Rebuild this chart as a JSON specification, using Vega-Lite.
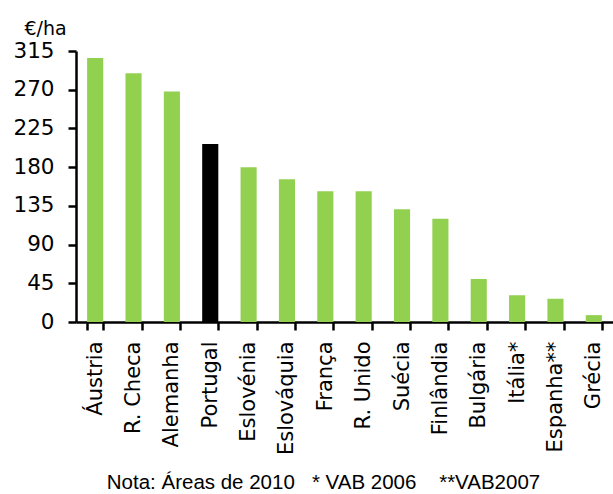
{
  "$schema": "https://vega.github.io/schema/vega-lite/v6.json",
  "width": 537,
  "height": 271,
  "autosize": {"type": "none"},
  "padding": {"left": 76, "top": 51, "right": 0, "bottom": 172},
  "background": "white",
  "config": {"view": {"stroke": null}},
  "data": {"values": [
    {"pais": "Áustria", "valor": 307, "grupo": "outro"},
    {"pais": "R. Checa", "valor": 289, "grupo": "outro"},
    {"pais": "Alemanha", "valor": 268, "grupo": "outro"},
    {"pais": "Portugal", "valor": 207, "grupo": "Portugal"},
    {"pais": "Eslovénia", "valor": 180, "grupo": "outro"},
    {"pais": "Eslováquia", "valor": 166, "grupo": "outro"},
    {"pais": "França", "valor": 152, "grupo": "outro"},
    {"pais": "R. Unido", "valor": 152, "grupo": "outro"},
    {"pais": "Suécia", "valor": 131, "grupo": "outro"},
    {"pais": "Finlândia", "valor": 120, "grupo": "outro"},
    {"pais": "Bulgária", "valor": 50, "grupo": "outro"},
    {"pais": "Itália*", "valor": 31, "grupo": "outro"},
    {"pais": "Espanha**", "valor": 27, "grupo": "outro"},
    {"pais": "Grécia", "valor": 8, "grupo": "outro"}
  ]},
  "mark": {"type": "bar"},
  "encoding": {
    "x": {
      "field": "pais", "type": "nominal", "sort": null,
      "scale": {"paddingInner": 0.58, "paddingOuter": 0.29},
      "axis": {
        "title": "Nota: Áreas de 2010\u00a0\u00a0 * VAB 2006\u00a0\u00a0\u00a0 **VAB2007",
        "titleFont": "Liberation Sans", "titleFontSize": 20.5, "titleFontWeight": "normal",
        "titleColor": "#000", "titleX": 247, "titleY": 160, "titleBaseline": "middle", "titleAnchor": "middle", "titleAlign": "center",
        "labelAngle": -90, "labelAlign": "right", "labelBaseline": "middle",
        "labelFont": "DejaVu Sans", "labelFontSize": 21, "labelColor": "#000", "labelPadding": 11,
        "tickBand": "extent", "tickSize": 8, "tickWidth": 2.5, "tickColor": "#000",
        "domainColor": "#000", "domainWidth": 2.5, "grid": false
      }
    },
    "y": {
      "field": "valor", "type": "quantitative",
      "scale": {"domain": [0, 315], "nice": false},
      "axis": {
        "title": "€/ha", "titleAngle": 0, "titleAlign": "left", "titleBaseline": "middle",
        "titleX": -52, "titleY": -23, "titleFont": "DejaVu Sans", "titleFontSize": 19, "titleFontWeight": "normal", "titleColor": "#000",
        "values": [0, 45, 90, 135, 180, 225, 270, 315],
        "labelFont": "DejaVu Sans", "labelFontSize": 21.5, "labelColor": "#000", "labelPadding": 14,
        "tickSize": 8, "tickWidth": 2.5, "tickColor": "#000",
        "domainColor": "#000", "domainWidth": 2.5, "grid": false
      }
    },
    "color": {
      "field": "grupo", "type": "nominal", "legend": null,
      "scale": {"domain": ["Portugal", "outro"], "range": ["#000000", "#92D050"]}
    }
  }
}
